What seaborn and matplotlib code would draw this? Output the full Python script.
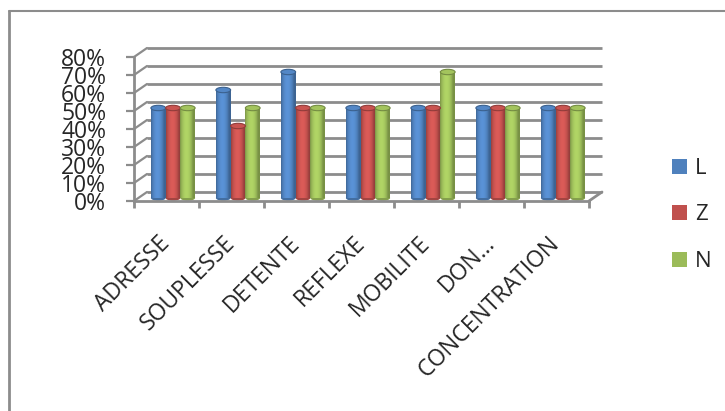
import numpy as np
import pandas as pd
import matplotlib
matplotlib.use("Agg")
import matplotlib.pyplot as plt
import seaborn as sns
from matplotlib.transforms import ScaledTranslation
from matplotlib.patches import Ellipse
from matplotlib.lines import Line2D
from matplotlib.colors import to_rgb

categories = ["ADRESSE", "SOUPLESSE", "DETENTE", "REFLEXE", "MOBILITE", "DON…", "CONCENTRATION"]
series_names = ["L", "Z", "N"]
L_values = [0.5, 0.6, 0.7, 0.5, 0.5, 0.5, 0.5]
Z_values = [0.5, 0.4, 0.5, 0.5, 0.5, 0.5, 0.5]
N_values = [0.5, 0.5, 0.5, 0.5, 0.7, 0.5, 0.5]
y_ticks = [0.0, 0.1, 0.2, 0.3, 0.4, 0.5, 0.6, 0.7, 0.8]
y_tick_labels = ["0%", "10%", "20%", "30%", "40%", "50%", "60%", "70%", "80%"]
colors = ["#4F81BD", "#C0504D", "#9BBB59"]

df = pd.DataFrame({
    "category": categories * 3,
    "series": [s for s in series_names for _ in categories],
    "value": L_values + Z_values + N_values,
})

sns.set_style("white")
plt.rcParams["font.family"] = ["Open Sans", "DejaVu Sans"]

W, H = 725, 411
fig = plt.figure(figsize=(W / 100, H / 100), dpi=100)
ax = fig.add_axes([134 / W, 210 / H, 455 / W, 144 / H])

sns.barplot(data=df, x="category", y="value", hue="series", order=categories,
            hue_order=series_names, palette=colors, width=0.68, saturation=1,
            linewidth=0, ax=ax)

grid = "#8c8c8c"
# depth of the back wall, in data units
dx, dy = 0.2, 0.05

# back wall grid and left wall
for t in y_ticks:
    ax.plot([-0.5 + dx, 6.5 + dx], [t + dy, t + dy], color=grid, lw=2,
            clip_on=False, zorder=0.5, solid_capstyle="butt")
    ax.plot([-0.5, -0.5 + dx], [t, t + dy], color=grid, lw=1.6,
            clip_on=False, zorder=0.5)
# right edge of the floor
ax.plot([6.5, 6.5 + dx], [0, dy], color=grid, lw=2, clip_on=False, zorder=0.5)

# bars sit midway in depth
bar_trans = ax.transData + ScaledTranslation(0.065, 0.03, fig.dpi_scale_trans)
u = np.linspace(0, 1, 48)
shade = 0.78 + 0.36 * np.sin(np.pi * np.clip(u * 1.15, 0, 1)) ** 0.7
bars = [p for p in ax.patches if p.get_height() > 0]
for p in bars:
    p.set_transform(bar_trans)
    p.set_zorder(2)
    base = np.array(to_rgb(p.get_facecolor()))
    grad = np.clip(base[None, :] * shade[:, None], 0, 1)[None, :, :]
    x0, y0, w, h = p.get_x(), p.get_y(), p.get_width(), p.get_height()
    im = ax.imshow(grad, extent=[x0, x0 + w, y0, y0 + h], aspect="auto",
                   interpolation="bilinear", transform=bar_trans, zorder=2.1)
    im.set_clip_path(p)
    cap_h = 0.03
    ax.add_patch(Ellipse((x0 + w / 2, y0 + h), w, cap_h, transform=bar_trans,
                         facecolor=np.clip(base * 1.05, 0, 1),
                         edgecolor=base * 0.75, lw=0.8, zorder=2.2, clip_on=False))
    ax.add_patch(Ellipse((x0 + w / 2, y0), w, cap_h, transform=bar_trans,
                         facecolor=base * 0.85, edgecolor="none",
                         zorder=1.9, clip_on=False))

ax.set_xlim(-0.5, 6.5)
ax.set_ylim(0, 0.8)
ax.set_yticks(y_ticks)
ax.set_yticklabels(y_tick_labels)
ax.set_xticks(range(len(categories)))
ax.set_xticklabels(categories, rotation=45, ha="right", va="center",
                   rotation_mode="anchor")
ax.set_xticks(np.arange(-0.5, 7, 1), minor=True)
ax.tick_params(axis="y", length=6, width=1.6, color=grid, pad=14, labelsize=16.5,
               left=True)
ax.tick_params(axis="x", which="major", length=0, pad=28, labelsize=16.5)
ax.tick_params(axis="x", which="minor", length=5, width=2, color=grid, bottom=True)
ax.set_xlabel("")
ax.set_ylabel("")
for side in ["top", "right"]:
    ax.spines[side].set_visible(False)
for side in ["left", "bottom"]:
    ax.spines[side].set_color(grid)
    ax.spines[side].set_linewidth(2)
ax.patch.set_alpha(0)

handles, labels = ax.get_legend_handles_labels()
ax.legend_.remove()
fig.legend(handles, labels, loc="center left",
           bbox_to_anchor=(672 / W, 1 - 215 / H), bbox_transform=fig.transFigure,
           frameon=False, fontsize=16, handlelength=0.68, handleheight=0.68,
           handletextpad=0.35, labelspacing=1.15, borderpad=0, borderaxespad=0)

# chart frame
fig.add_artist(Line2D([8.5 / W, 1], [1 - 11.5 / H, 1 - 11.5 / H],
                      transform=fig.transFigure, color=grid, lw=1.5))
fig.add_artist(Line2D([9 / W, 9 / W], [0, 1 - 11.5 / H],
                      transform=fig.transFigure, color=grid, lw=2))

fig.savefig("out.png", dpi=100)
